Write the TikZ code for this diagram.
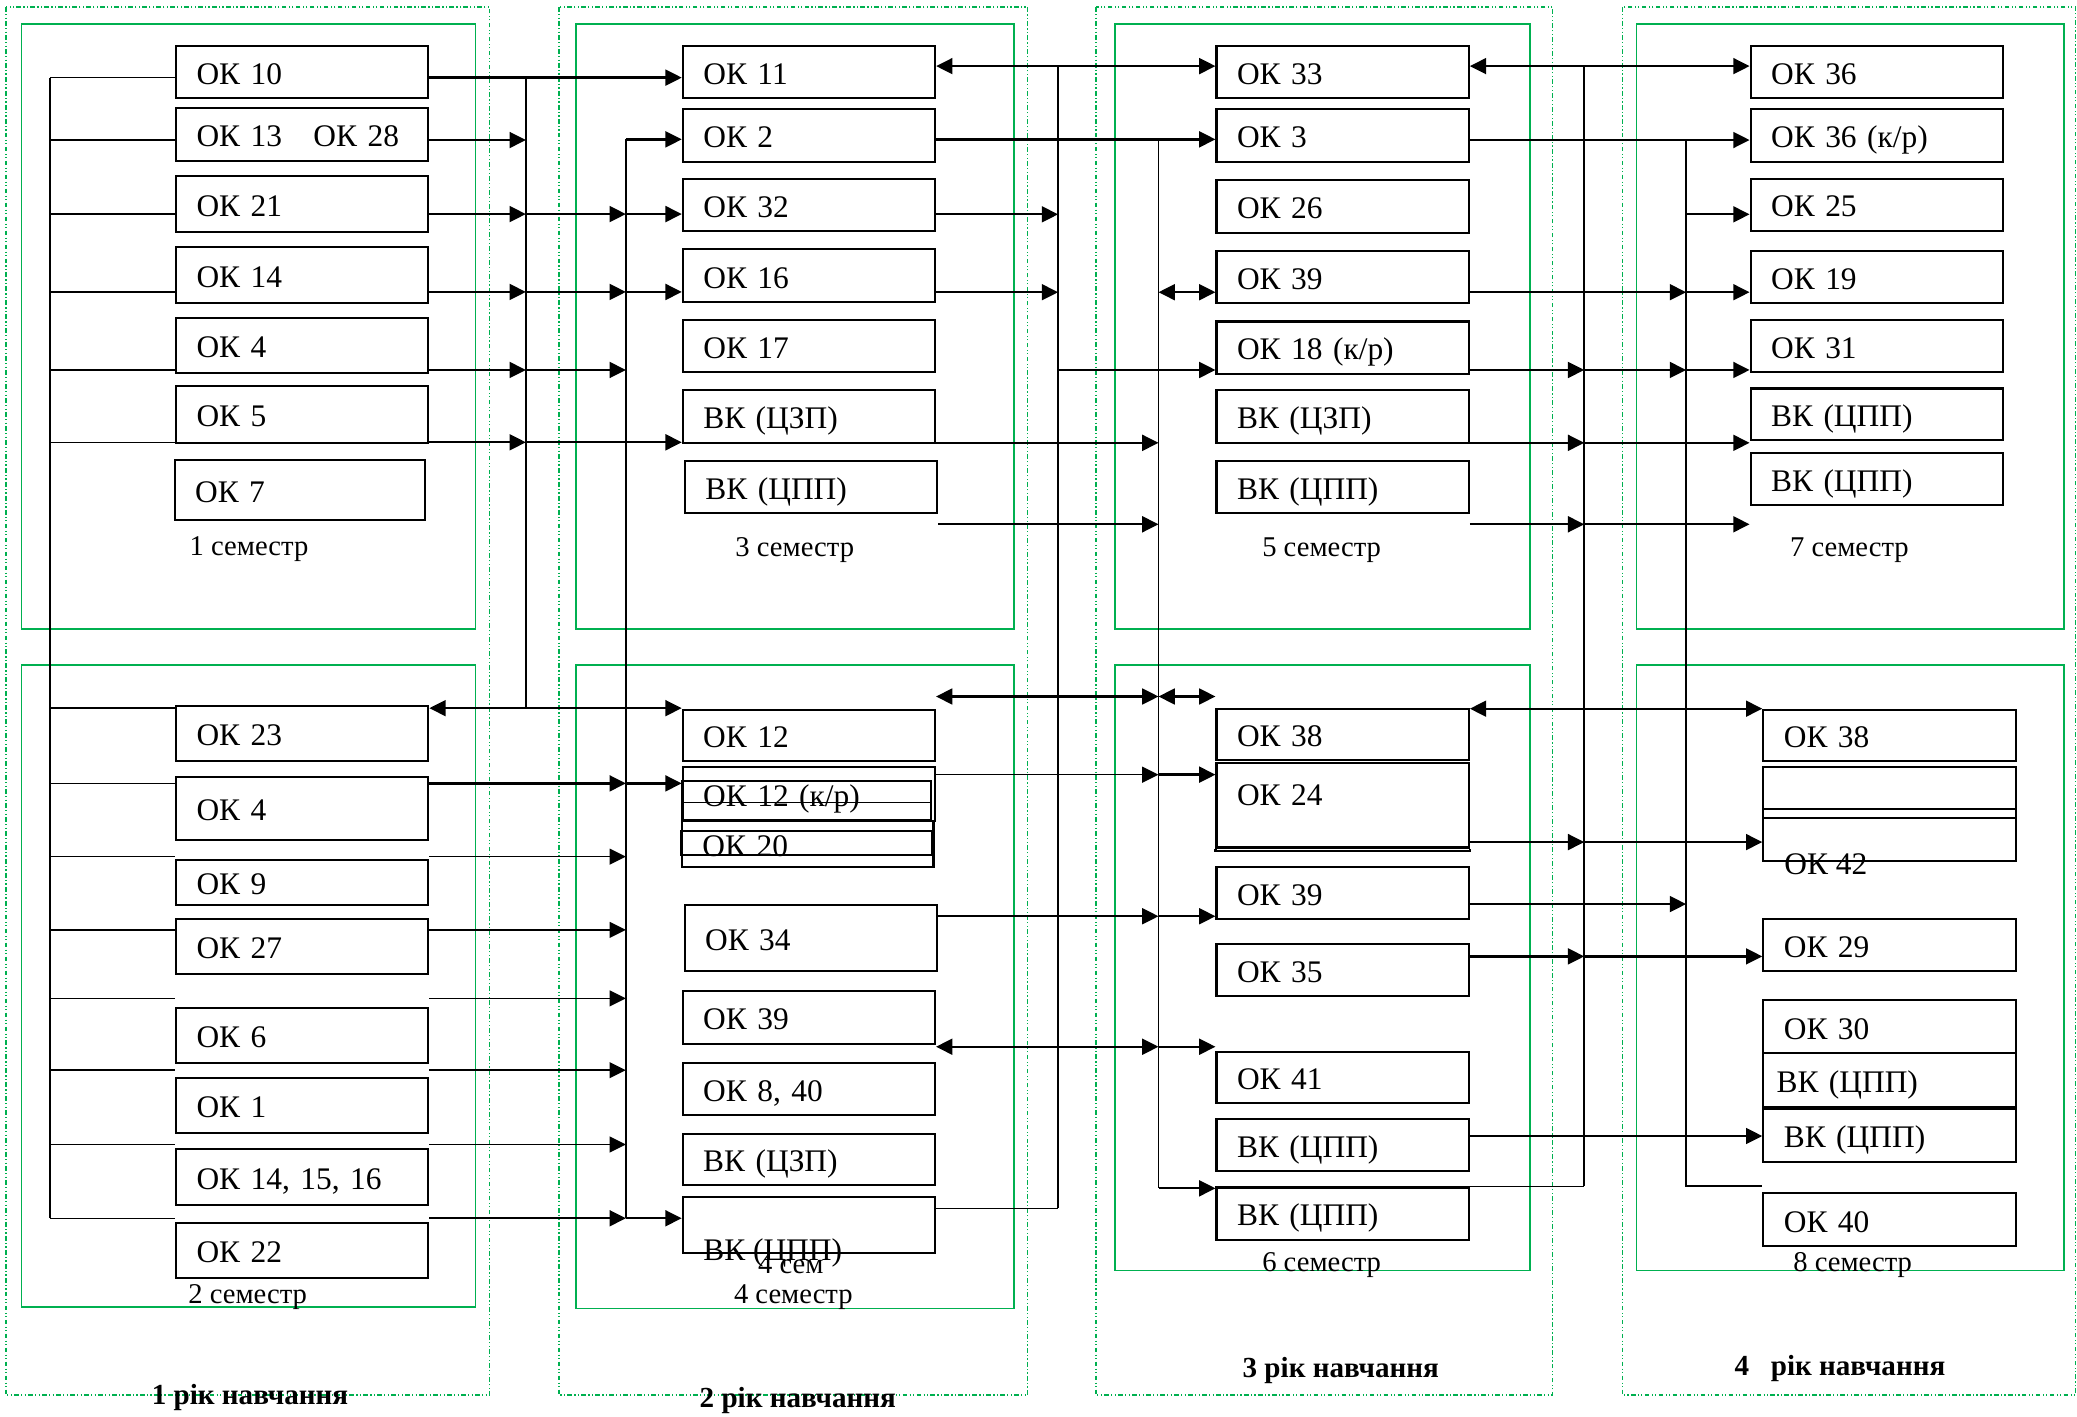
\documentclass[tikz,border=0pt]{standalone}
\usepackage{fontspec}
\setmainfont{Liberation Serif}
\usetikzlibrary{arrows.meta}
\definecolor{kgreen}{RGB}{0,176,80}
\newcommand{\kfont}{\fontsize{13.5}{15}\selectfont}
\newcommand{\semfont}{\fontsize{12.3}{14}\selectfont}
\newcommand{\yearfont}{\fontsize{12.5}{14}\selectfont\bfseries}
\tikzset{
  >={Triangle[length=7pt,width=6.8pt]},
  kbox/.style={draw, line width=0.9pt, anchor=north west, minimum height=#1,
    text width=3.19cm, inner xsep=0.31cm, inner ysep=0pt, align=left,
    text height=0.37cm, text depth=0pt, font=\kfont},
  kbox/.default=0.79cm,
  ktext/.style={font=\kfont, inner sep=0pt, anchor=west},
  semframe/.style={draw=kgreen, line width=0.7pt},
  yearframe/.style={draw=kgreen, line width=0.6pt,
    dash pattern=on 2pt off 1pt on 0.5pt off 1pt on 0.5pt off 1pt},
  semlbl/.style={font=\semfont, inner sep=0pt},
  yearlbl/.style={font=\yearfont, inner sep=0pt},
  ln/.style={line width=0.6pt},
  bus/.style={line width=0.7pt},
  arr/.style={line width=1pt, ->},
  arrt/.style={line width=0.7pt, ->},
  darr/.style={line width=1pt, <->}
}
\begin{document}
\begin{tikzpicture}[x=0.02cm, y=-0.02cm]
  \useasboundingbox (0,0) rectangle (1568,1069);
  % years
  \draw[yearframe] (4.4,5.4) rectangle (369.7,1053.2);
  \draw[yearframe] (422,5.4) rectangle (775.8,1053.2);
  \draw[yearframe] (827.3,5.4) rectangle (1172,1053.2);
  \draw[yearframe] (1224.8,5.4) rectangle (1567,1053.2);
  % semesters
  \draw[semframe] (16.2,18.2) rectangle (359,475);
  \draw[semframe] (16.2,501.8) rectangle (359,986.7);
  \draw[semframe] (434.8,18.2) rectangle (765.7,475);
  \draw[semframe] (434.8,501.8) rectangle (765.7,987.8);
  \draw[semframe] (841.8,18.2) rectangle (1155.2,475);
  \draw[semframe] (841.8,501.8) rectangle (1155.2,959.1);
  \draw[semframe] (1235.4,18.2) rectangle (1558,475);
  \draw[semframe] (1235.4,501.8) rectangle (1558,959.1);

  % 1 semester
  \node[kbox] (a10) at (132.1,34) {ОК 10};
  \node[kbox=0.81cm] (a13) at (132.1,80.5) {ОК 13\quad ОК 28};
  \node[kbox=0.85cm] (a21) at (132.1,132.1) {ОК 21};
  \node[kbox=0.84cm] (a14) at (132.1,185.7) {ОК 14};
  \node[kbox=0.84cm] (a4) at (132.1,239) {ОК 4};
  \node[kbox=0.85cm] (a5) at (132.1,290.9) {ОК 5};
  \node[kbox=0.91cm, text width=3.16cm] (a7) at (131,346.5) {ОК 7};
  % 2 semester
  \node[kbox=0.84cm] (b23) at (132.1,532) {ОК 23};
  \node[kbox=0.95cm] (b4) at (132.1,585.8) {ОК 4};
  \node[kbox=0.67cm] (b9) at (132.1,648.6) {ОК 9};
  \node[kbox=0.83cm] (b27) at (132.1,692.8) {ОК 27};
  \node[kbox=0.83cm] (b6) at (132.1,760) {ОК 6};
  \node[kbox=0.84cm] (b1) at (132.1,812.7) {ОК 1};
  \node[kbox=0.84cm] (b14) at (132.1,866.9) {ОК 14, 15, 16};
  \node[kbox=0.83cm] (b22) at (132.1,922.2) {ОК 22};
  % 3 semester
  \node[kbox=0.78cm] (c11) at (514.7,34.2) {ОК 11};
  \node[kbox] (c2) at (514.7,81.7) {ОК 2};
  \node[kbox] (c32) at (514.7,134.3) {ОК 32};
  \node[kbox=0.8cm] (c16) at (514.7,187.4) {ОК 16};
  \node[kbox] (c17) at (514.7,240.8) {ОК 17};
  \node[kbox] (c3z) at (514.7,293.9) {ВК (ЦЗП)};
  \node[kbox=0.78cm] (c3p) at (516.3,347.3) {ВК (ЦПП)};
  % 4 semester
  \node[kbox=0.78cm] (d12) at (514.6,535) {ОК 12};
  \node[kbox=0.82cm] (d12kr) at (514.6,578) {ОК 12 (к/р)};
  \draw[line width=0.9pt] (514.6,589.5) rectangle (703,619);
  \draw[line width=0.6pt] (514.6,606) -- (703,606);
  \node[kbox=0.69cm, text width=3.18cm] (d20) at (514,619) {ОК 20};
  \draw[line width=0.9pt] (514,627) rectangle (704,645.6);
  \node[kbox=1cm] (d34) at (516,682.5) {ОК 34};
  \node[kbox=0.8cm] (d39) at (514.6,747.4) {ОК 39};
  \node[kbox] (d840) at (514.6,801.6) {ОК 8, 40};
  \node[kbox=0.77cm] (dz) at (514.6,855.1) {ВК (ЦЗП)};
  \node[kbox=0.84cm] (dp) at (514.6,903.1) {};
  \node[ktext] (dpt) at (530.6,946) {ВК (ЦПП)};
  \node[semlbl] (s4a) at (597,954.7) {4 сем};
  % 5 semester
  \node[kbox=0.78cm] (e33) at (917.6,34.2) {ОК 33};
  \node[kbox] (e3) at (917.6,81.7) {ОК 3};
  \node[kbox=0.8cm] (e26) at (917.6,134.8) {ОК 26};
  \node[kbox=0.78cm] (e39) at (917.6,188.7) {ОК 39};
  \node[kbox] (e18) at (917.6,241.9) {ОК 18 (к/р)};
  \node[kbox] (ez) at (917.6,293.9) {ВК (ЦЗП)};
  \node[kbox] (ep) at (917.6,347) {ВК (ЦПП)};
  % 6 semester
  \node[kbox=0.77cm] (f38) at (917.6,534.2) {ОК 38};
  \node[kbox=1.27cm, text height=0.37cm, text depth=0.38cm] (f24) at (917.6,575.5) {ОК 24};
  \draw[line width=0.9pt] (f24.south west) -- (f24.south west |- 0,642.7) -- (f24.south east |- 0,642.7) -- (f24.south east);
  \node[kbox=0.78cm] (f39) at (917.6,654) {ОК 39};
  \node[kbox=0.78cm] (f35) at (917.6,712) {ОК 35};
  \node[kbox=0.78cm] (f41) at (917.6,793.1) {ОК 41};
  \node[kbox] (fp1) at (917.6,844) {ВК (ЦПП)};
  \node[kbox] (fp2) at (917.6,895.7) {ВК (ЦПП)};
  % 7 semester
  \node[kbox=0.78cm] (g36) at (1320.8,34.2) {ОК 36};
  \node[kbox] (g36kr) at (1320.8,81.7) {ОК 36 (к/р)};
  \node[kbox] (g25) at (1320.8,134) {ОК 25};
  \node[kbox=0.78cm] (g19) at (1320.8,188.7) {ОК 19};
  \node[kbox] (g31) at (1320.8,240.8) {ОК 31};
  \node[kbox=0.78cm] (gp1) at (1320.8,292.5) {ВК (ЦПП)};
  \node[kbox] (gp2) at (1320.8,341.1) {ВК (ЦПП)};
  % 8 semester
  \node[kbox=0.78cm] (h38) at (1330.4,535) {ОК 38};
  \node[kbox=1.43cm] (h42) at (1330.4,578) {};
  \draw[line width=0.9pt] (h42.west |- 0,610.6) -- (h42.east |- 0,610.6);
  \draw[line width=0.9pt] (h42.west |- 0,617.3) -- (h42.east |- 0,617.3);
  \node[ktext] (h42t) at (1346.7,652.6) {ОК 42};
  \node[kbox] (h29) at (1330.4,692.8) {ОК 29};
  \node[kbox=0.8cm] (h30) at (1330.4,754.4) {ОК 30};
  \node[kbox=0.81cm, inner xsep=0.2cm, text width=3.41cm] (hp1) at (1330.4,794.2) {ВК (ЦПП)};
  \node[kbox] (hp2) at (1330.4,836.6) {ВК (ЦПП)};
  \node[kbox=0.8cm] (h40) at (1330.4,900.1) {ОК 40};

  % labels
  \node[semlbl] (s1) at (188,414.5) {1 семестр};
  \node[semlbl] (s3) at (600,415.2) {3 семестр};
  \node[semlbl] (s5) at (997.7,415.2) {5 семестр};
  \node[semlbl] (s7) at (1396.2,415.2) {7 семестр};
  \node[semlbl] (s2) at (187,979.4) {2 семестр};
  \node[semlbl] (s4) at (598.9,979.4) {4 семестр};
  \node[semlbl] (s6) at (997.7,954.7) {6 семестр};
  \node[semlbl] (s8) at (1398.6,954.7) {8 семестр};
  \node[yearlbl] (y1) at (188.7,1055) {1 рік навчання};
  \node[yearlbl] (y2) at (602.3,1057) {2 рік навчання};
  \node[yearlbl] (y3) at (1012.2,1034.7) {3 рік навчання};
  \node[yearlbl] (y4) at (1389,1033) {4~~~рік навчання};

  % buses
  \coordinate (busL) at (37.7,0);
  \coordinate (busA) at (397,0);
  \coordinate (busB) at (472.5,0);
  \coordinate (busC) at (798.8,0);
  \coordinate (busD) at (874.6,0);
  \coordinate (busE) at (1196,0);
  \coordinate (busF) at (1272.9,0);

  % left bus
  \draw[ln] (busL |- 0,58.6) -- (busL |- 0,919.7);
  \draw[ln] (busL |- 0,58.6) -- (a10.west |- 0,58.6);
  \draw[ln] (busL |- 0,105.7) -- (a13.west |- 0,105.7);
  \draw[ln] (busL |- 0,161.6) -- (a21.west |- 0,161.6);
  \draw[ln] (busL |- 0,220.4) -- (a14.west |- 0,220.4);
  \draw[ln] (busL |- 0,279.3) -- (a4.west |- 0,279.3);
  \draw[ln] (busL |- 0,333.9) -- (a5.west |- 0,333.9);
  \draw[ln] (busL |- 0,534.6) -- (b23.west |- 0,534.6);
  \draw[ln] (busL |- 0,591.4) -- (b4.west |- 0,591.4);
  \draw[ln] (busL |- 0,646.7) -- (b9.west |- 0,646.7);
  \draw[ln] (busL |- 0,702) -- (b27.west |- 0,702);
  \draw[ln] (busL |- 0,753.7) -- (b6.west |- 0,753.7);
  \draw[ln] (busL |- 0,807.9) -- (b1.west |- 0,807.9);
  \draw[ln] (busL |- 0,864) -- (b14.west |- 0,864);
  \draw[ln] (busL |- 0,919.7) -- (b22.west |- 0,919.7);

  % year 1 -> year 2
  \draw[bus] (busA |- 0,58.6) -- (busA |- 0,534.6);
  \draw[bus] (busB |- 0,105.2) -- (busB |- 0,919.7);
  \draw[arr] (a10.east |- 0,58.6) -- (c11.west |- 0,58.6);
  \draw[arr] (a13.east |- 0,105.7) -- (busA |- 0,105.7);
  \draw[arr] (busB |- 0,105.2) -- (c2.west |- 0,105.2);
  \draw[arr] (a21.east |- 0,161.6) -- (busA |- 0,161.6);
  \draw[arr] (busA |- 0,161.6) -- (busB |- 0,161.6);
  \draw[arr] (busB |- 0,161.6) -- (c32.west |- 0,161.6);
  \draw[arr] (a14.east |- 0,220.4) -- (busA |- 0,220.4);
  \draw[arr] (busA |- 0,220.4) -- (busB |- 0,220.4);
  \draw[arr] (busB |- 0,220.4) -- (c16.west |- 0,220.4);
  \draw[arr] (a4.east |- 0,279.3) -- (busA |- 0,279.3);
  \draw[arr] (busA |- 0,279.3) -- (busB |- 0,279.3);
  \draw[arr] (a5.east |- 0,333.9) -- (busA |- 0,333.9);
  \draw[arr] (busA |- 0,333.9) -- (c3z.west |- 0,333.9);
  \draw[darr] (b23.east |- 0,534.6) -- (d12.west |- 0,534.6);
  \draw[arr] (b4.east |- 0,591.4) -- (busB |- 0,591.4);
  \draw[arr] (busB |- 0,591.4) -- (d12kr.west |- 0,591.4);
  \draw[arrt] (b9.east |- 0,646.7) -- (busB |- 0,646.7);
  \draw[arrt] (b27.east |- 0,702) -- (busB |- 0,702);
  \draw[arrt] (b6.east |- 0,753.7) -- (busB |- 0,753.7);
  \draw[arrt] (b1.east |- 0,807.9) -- (busB |- 0,807.9);
  \draw[arrt] (b14.east |- 0,864) -- (busB |- 0,864);
  \draw[arr] (b22.east |- 0,919.7) -- (busB |- 0,919.7);
  \draw[arr] (busB |- 0,919.7) -- (dp.west |- 0,919.7);

  % year 2 -> year 3
  \draw[bus] (busC |- 0,49.9) -- (busC |- 0,912.3);
  \draw[bus] (busD |- 0,105.2) -- (busD |- 0,897.1);
  \draw[darr] (c11.east |- 0,49.9) -- (e33.west |- 0,49.9);
  \draw[arr] (c2.east |- 0,105.2) -- (e3.west |- 0,105.2);
  \draw[arr] (c32.east |- 0,161.8) -- (busC |- 0,161.8);
  \draw[arr] (c16.east |- 0,220.6) -- (busC |- 0,220.6);
  \draw[darr] (busD |- 0,220.6) -- (e39.west |- 0,220.6);
  \draw[arr] (busC |- 0,279.3) -- (e18.west |- 0,279.3);
  \draw[arr] (c3z.east |- 0,334.3) -- (busD |- 0,334.3);
  \draw[arr] (c3p.east |- 0,395.8) -- (busD |- 0,395.8);
  \draw[darr] (d12.east |- 0,525.8) -- (busD |- 0,525.8);
  \draw[darr] (busD |- 0,525.8) -- (f38.west |- 0,525.8);
  \draw[arrt] (d12kr.east |- 0,584.8) -- (busD |- 0,584.8);
  \draw[arr] (busD |- 0,584.8) -- (f24.west |- 0,584.8);
  \draw[arr] (d34.east |- 0,691.7) -- (busD |- 0,691.7);
  \draw[arr] (busD |- 0,691.7) -- (f39.west |- 0,691.7);
  \draw[darr] (d39.east |- 0,790.2) -- (busD |- 0,790.2);
  \draw[arr] (busD |- 0,790.2) -- (f41.west |- 0,790.2);
  \draw[bus] (dp.east |- 0,912.3) -- (busC |- 0,912.3);
  \draw[arr] (busD |- 0,897.1) -- (fp2.west |- 0,897.1);

  % year 3 -> year 4
  \draw[bus] (busE |- 0,49.9) -- (busE |- 0,895.7);
  \draw[bus] (busF |- 0,105.7) -- (busF |- 0,895.3) -- (h40.west |- 0,895.3);
  \draw[darr] (e33.east |- 0,49.9) -- (g36.west |- 0,49.9);
  \draw[arr] (e3.east |- 0,105.7) -- (g36kr.west |- 0,105.7);
  \draw[arr] (busF |- 0,161.8) -- (g25.west |- 0,161.8);
  \draw[arr] (e39.east |- 0,220.6) -- (busF |- 0,220.6);
  \draw[arr] (busF |- 0,220.6) -- (g19.west |- 0,220.6);
  \draw[arr] (e18.east |- 0,279.3) -- (busE |- 0,279.3);
  \draw[arr] (busE |- 0,279.3) -- (busF |- 0,279.3);
  \draw[arr] (busF |- 0,279.3) -- (g31.west |- 0,279.3);
  \draw[arr] (ez.east |- 0,334.3) -- (busE |- 0,334.3);
  \draw[arr] (busE |- 0,334.3) -- (gp1.west |- 0,334.3);
  \draw[arr] (ep.east |- 0,395.8) -- (busE |- 0,395.8);
  \draw[arr] (busE |- 0,395.8) -- (gp2.west |- 0,395.8);
  \draw[darr] (f38.east |- 0,535) -- (h38.west |- 0,535);
  \draw[arr] (f24.east |- 0,635.7) -- (busE |- 0,635.7);
  \draw[arr] (busE |- 0,635.7) -- (h42.west |- 0,635.7);
  \draw[arr] (f39.east |- 0,682.5) -- (busF |- 0,682.5);
  \draw[arr] (f35.east |- 0,722) -- (busE |- 0,722);
  \draw[arr] (busE |- 0,722) -- (h29.west |- 0,722);
  \draw[arr] (fp1.east |- 0,857.6) -- (hp2.west |- 0,857.6);
  \draw[bus] (fp2.east |- 0,895.7) -- (busE |- 0,895.7);
\end{tikzpicture}
\end{document}
